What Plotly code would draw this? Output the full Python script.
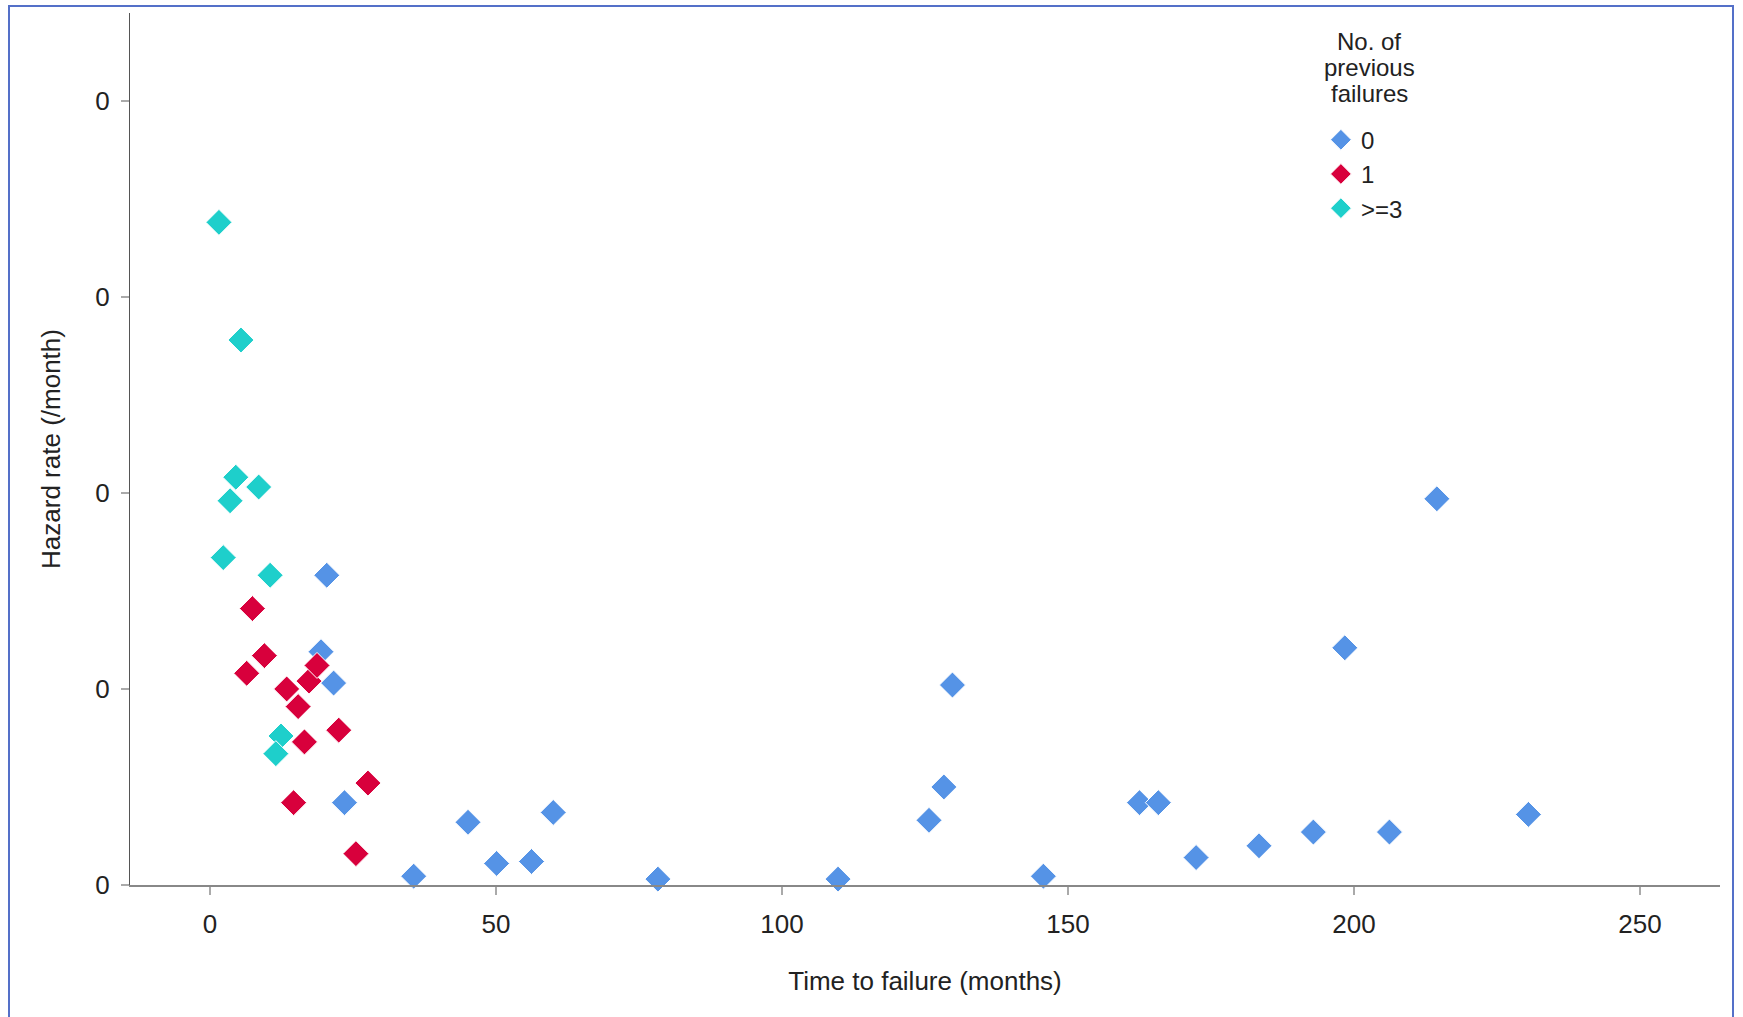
import plotly.graph_objects as go

# ---- data ----
x_0 = [20.4, 19.4, 21.6, 23.5, 35.6, 45.1, 50.1, 56.2, 60.0, 78.3, 109.8, 125.7,
       128.3, 129.8, 145.7, 162.5, 165.8, 172.4, 183.4, 192.9, 198.4, 206.2, 214.5, 230.5]
y_0 = [0.0158, 0.0119, 0.0103, 0.0042, 0.00045, 0.0032, 0.0011, 0.0012, 0.0037, 0.0003,
       0.0003, 0.0033, 0.0050, 0.0102, 0.00045, 0.0042, 0.0042, 0.0014, 0.0020, 0.0027,
       0.0121, 0.0027, 0.0197, 0.0036]

x_1 = [7.4, 6.4, 9.5, 13.4, 15.4, 17.3, 18.7, 16.5, 22.5, 14.6, 27.6, 25.5]
y_1 = [0.0141, 0.0108, 0.0117, 0.0100, 0.0091, 0.0104, 0.0112, 0.0073, 0.0079,
       0.0042, 0.0052, 0.0016]

x_3 = [1.55, 5.4, 4.5, 3.5, 8.5, 2.3, 10.5, 12.4, 11.5]
y_3 = [0.0338, 0.0278, 0.0208, 0.0196, 0.0203, 0.0167, 0.0158, 0.0076, 0.0067]

group_names = ["0", "1", ">=3"]
group_colors = ["#5593E6", "#D8003C", "#1ECFCB"]
legend_title_lines = ["No. of", "previous", "failures"]

x_ticks = [0, 50, 100, 150, 200, 250]
y_ticks = [0, 0.01, 0.02, 0.03, 0.04]

FONT = "Liberation Sans, Arial, sans-serif"
TXT = "#222222"

fig = go.Figure()
for xs, ys, name, col in zip([x_0, x_1, x_3], [y_0, y_1, y_3], group_names, group_colors):
    fig.add_trace(go.Scatter(
        x=xs, y=ys, mode="markers", name=name, cliponaxis=False,
        marker=dict(symbol="diamond", size=20, color=col,
                    line=dict(color="white", width=1)),
    ))

fig.update_layout(
    width=1743, height=1017,
    margin=dict(l=130, r=23, t=13, b=132),
    paper_bgcolor="white", plot_bgcolor="white",
    font=dict(family=FONT, size=24, color=TXT),
    showlegend=True,
    legend=dict(
        x=0.749, y=0.88, xanchor="left", yanchor="top",
        bgcolor="rgba(0,0,0,0)",
        font=dict(size=24),
        itemsizing="trace",
    ),
    xaxis=dict(
        range=[-14, 264], tickvals=x_ticks, showgrid=False, zeroline=False,
        showline=True, linecolor="#888888", linewidth=2,
        ticks="outside", ticklen=8, tickcolor="#aaaaaa", tickwidth=2,
        ticklabelstandoff=7, tickfont=dict(size=26),
        title=dict(text="Time to failure (months)", standoff=34, font=dict(size=26)),
    ),
    yaxis=dict(
        range=[0, 0.04448], tickvals=y_ticks, tickformat=".0f",
        showgrid=False, zeroline=False,
        showline=True, linecolor="#555555", linewidth=1,
        ticks="outside", ticklen=8, tickcolor="#aaaaaa", tickwidth=2,
        ticklabelstandoff=6, tickfont=dict(size=26),
        title=dict(text="Hazard rate (/month)", standoff=27, font=dict(size=26)),
    ),
)

# legend heading, centred over the legend entries (tight line spacing as in the source)
for i, line in enumerate(legend_title_lines):
    fig.add_annotation(
        text=line, xref="paper", yref="paper",
        x=(1369 - 130) / 1590, y=(885 - (41 + 26 * i)) / 872,
        xanchor="center", yanchor="middle", align="center",
        showarrow=False, font=dict(size=24, color=TXT),
    )

# outer frame of the chart image
fig.add_shape(type="rect", xref="paper", yref="paper",
              x0=(9 - 130) / 1590, x1=(1733 - 130) / 1590,
              y0=(885 - 1040) / 872, y1=(885 - 6) / 872,
              line=dict(color="#5470C8", width=2), fillcolor="rgba(0,0,0,0)",
              layer="below")

fig.write_html("out.html", config={"displayModeBar": False},
               post_script="document.body.style.margin='0';")
